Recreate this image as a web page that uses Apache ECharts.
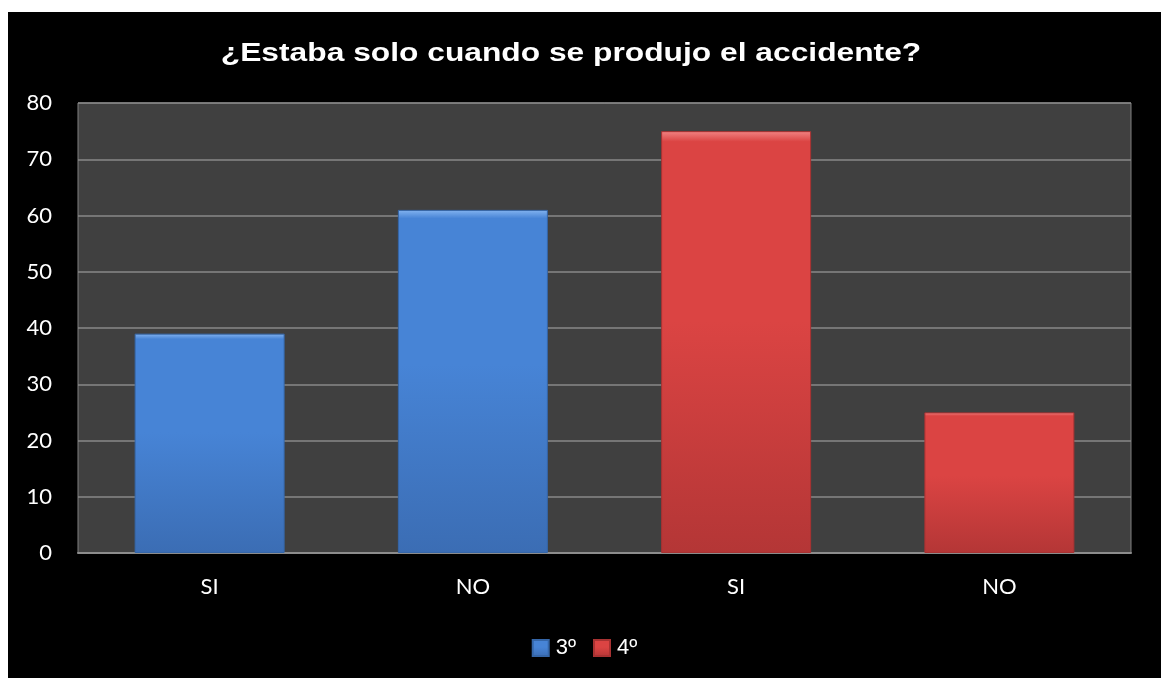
<!DOCTYPE html>
<html>
<head>
<meta charset="utf-8">
<script src="https://cdn.jsdelivr.net/npm/echarts@6/dist/echarts.min.js"></script>
<style>
html,body{margin:0;padding:0;background:#fff;}
#c{width:1169px;height:678px;}
</style>
</head>
<body>
<div id="c"></div>
<script>
var titleText = '¿Estaba solo cuando se produjo el accidente?';
var categories = ['SI', 'NO', 'SI', 'NO'];
var seriesNames = ['3º', '4º'];
var values3 = [39, 61, '-', '-'];
var values4 = ['-', '-', 75, 25];
var yTicks = {min: 0, max: 80, interval: 10};

var chart = echarts.init(document.getElementById('c'));
function grad(top, mid, bot) {
  return new echarts.graphic.LinearGradient(0, 0, 0, 1, [
    {offset: 0, color: top}, {offset: 0.025, color: mid}, {offset: 0.45, color: mid}, {offset: 1, color: bot}
  ]);
}
var blue = grad('#84b4f0', '#4784d6', '#3b6db4');
var red = grad('#f28484', '#db4443', '#b43636');
chart.setOption({
  backgroundColor: '#ffffff',
  animation: false,
  graphic: [
    {type: 'rect', shape: {x: 8, y: 12, width: 1153, height: 666}, style: {fill: '#000'}, z: -10, silent: true},
    {type: 'text', x: 571, y: 54, scaleX: 1.27, z: 10,
     style: {text: titleText, fill: '#fff', font: 'bold 25px "Liberation Sans"', align: 'center', verticalAlign: 'middle'}}
  ],
  legend: {
    data: seriesNames, top: 637, left: 'center', padding: 0,
    icon: 'rect', itemWidth: 16, itemHeight: 16, itemGap: 17,
    textStyle: {color: '#fff', fontFamily: 'Liberation Sans', fontSize: 22, padding: [0, 0, 0, 2]}
  },
  grid: {left: 78, right: 38, top: 103, bottom: 125, show: true, backgroundColor: '#404040', borderColor: '#808080', borderWidth: 1},
  xAxis: {
    type: 'category', data: categories,
    axisLine: {lineStyle: {color: '#8c8c8c', width: 2}},
    axisTick: {show: false},
    axisLabel: {color: '#fff', fontFamily: 'Lato', fontSize: 22, margin: 23}
  },
  yAxis: {
    type: 'value', min: yTicks.min, max: yTicks.max, interval: yTicks.interval,
    axisLine: {show: false}, axisTick: {show: false},
    axisLabel: {color: '#fff', fontFamily: 'Lato', fontSize: 22, margin: 26},
    splitLine: {lineStyle: {color: '#888888', width: 1.5}}
  },
  series: [
    {name: seriesNames[0], type: 'bar', stack: 's', data: values3, barWidth: 150,
     itemStyle: {color: blue, borderColor: '#3566a8', borderWidth: 1}},
    {name: seriesNames[1], type: 'bar', stack: 's', data: values4, barWidth: 150,
     itemStyle: {color: red, borderColor: '#a83232', borderWidth: 1}}
  ]
});
</script>
</body>
</html>
